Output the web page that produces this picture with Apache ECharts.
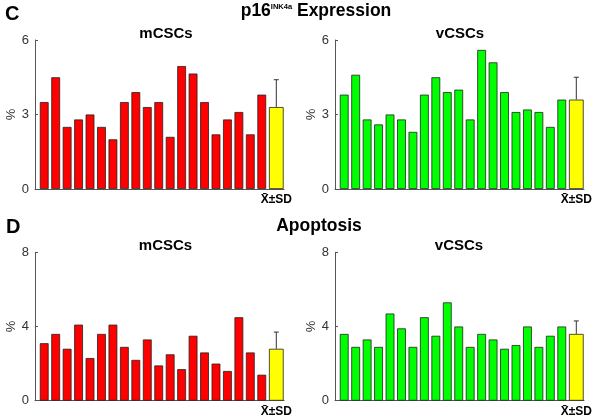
<!DOCTYPE html>
<html><head><meta charset="utf-8">
<script src="https://cdn.jsdelivr.net/npm/echarts@6/dist/echarts.min.js"></script>
<style>html,body{margin:0;padding:0;background:#fff}#c{width:600px;height:420px}</style>
</head><body><div id="c"></div>
<script>
// ---------- data ----------
const samples = ['1','2','3','4','5','6','7','8','9','10','11','12','13','14','15','16','17','18','19','20'];
const meanLabel = ['X\u0304\u00B1SD'];

const p16_mCSC = [3.5,4.5,2.5,2.8,3.0,2.5,2.0,3.5,3.9,3.3,3.5,2.1,4.95,4.65,3.5,2.2,2.8,3.1,2.2,3.8];
const p16_mCSC_mean = 3.3;
const p16_mCSC_sd = 1.1;

const p16_vCSC = [3.8,4.6,2.8,2.6,3.0,2.8,2.3,3.8,4.5,3.9,4.0,2.8,5.6,5.1,3.9,3.1,3.2,3.1,2.5,3.6];
const p16_vCSC_mean = 3.6;
const p16_vCSC_sd = 0.9;

const apo_mCSC = [3.1,3.6,2.8,4.1,2.3,3.6,4.1,2.9,2.2,3.3,1.9,2.5,1.7,3.5,2.6,2.0,1.6,4.5,2.6,1.4];
const apo_mCSC_mean = 2.8;
const apo_mCSC_sd = 0.9;

const apo_vCSC = [3.6,2.9,3.3,2.9,4.7,3.9,2.9,4.5,3.5,5.3,4.0,2.9,3.6,3.3,2.8,3.0,4.0,2.9,3.5,4.0];
const apo_vCSC_mean = 3.6;
const apo_vCSC_sd = 0.7;

const p16Axis = {max: 6, interval: 3};
const apoAxis = {max: 8, interval: 4};

// ---------- layout ----------
const FONT = 'Liberation Sans, Arial, Helvetica, sans-serif';
const panels = [
  {vals: p16_mCSC, mean: p16_mCSC_mean, sd: p16_mCSC_sd, color: '#ff0000', x0: 35,  top: 40,    h: 149,   ax: p16Axis},
  {vals: p16_vCSC, mean: p16_vCSC_mean, sd: p16_vCSC_sd, color: '#00ff00', x0: 335, top: 40,    h: 149,   ax: p16Axis},
  {vals: apo_mCSC, mean: apo_mCSC_mean, sd: apo_mCSC_sd, color: '#ff0000', x0: 35,  top: 252.3, h: 148.4, ax: apoAxis},
  {vals: apo_vCSC, mean: apo_vCSC_mean, sd: apo_vCSC_sd, color: '#00ff00', x0: 335, top: 252.3, h: 148.4, ax: apoAxis}
];

const grid = [], xAxis = [], yAxis = [], series = [];
const axisColor = '#555';
panels.forEach((p) => {
  const gF = grid.length;
  grid.push({left: p.x0, top: p.top, width: 249, height: p.h});
  grid.push({left: p.x0 + 3.5, top: p.top, width: 229, height: p.h});
  grid.push({left: p.x0 + 232.5, top: p.top, width: 17.6, height: p.h});
  // frame axes
  xAxis.push({type: 'category', gridIndex: gF, data: [''],
    axisLine: {show: true, lineStyle: {color: axisColor, width: 1}},
    axisTick: {show: false}, axisLabel: {show: false}, splitLine: {show: false}});
  yAxis.push({type: 'value', gridIndex: gF, min: 0, max: p.ax.max, interval: p.ax.interval,
    axisLine: {show: true, lineStyle: {color: axisColor, width: 1}},
    axisTick: {show: true, inside: true, length: 3, lineStyle: {color: axisColor}},
    axisLabel: {margin: 6, fontSize: 13, color: '#333', fontFamily: FONT},
    splitLine: {show: false},
    name: '%', nameLocation: 'middle', nameGap: 12,
    nameTextStyle: {fontSize: 13, color: '#333', fontFamily: FONT}});
  // sample bars axes
  xAxis.push({type: 'category', gridIndex: gF + 1, data: samples, show: false});
  yAxis.push({type: 'value', gridIndex: gF + 1, min: 0, max: p.ax.max, show: false});
  // mean bar axes
  xAxis.push({type: 'category', gridIndex: gF + 2, data: meanLabel,
    axisLine: {show: false}, axisTick: {show: false},
    axisLabel: {show: true, margin: 5, fontSize: 12, fontWeight: 'bold', color: '#000', fontFamily: FONT, interval: 0}});
  yAxis.push({type: 'value', gridIndex: gF + 2, min: 0, max: p.ax.max, show: false});

  series.push({type: 'bar', xAxisIndex: gF + 1, yAxisIndex: gF + 1, data: p.vals, barWidth: 8.8,
    itemStyle: {color: p.color, borderColor: '#222', borderWidth: 0.8}, silent: true});
  series.push({type: 'bar', xAxisIndex: gF + 2, yAxisIndex: gF + 2, data: [p.mean], barWidth: 14.7,
    itemStyle: {color: '#ffff00', borderColor: '#222', borderWidth: 0.8}, silent: true});
  series.push({type: 'custom', xAxisIndex: gF + 2, yAxisIndex: gF + 2, silent: true, z: 5,
    data: [[0, p.mean, p.sd]],
    renderItem: function (params, api) {
      const m = api.value(1), s = api.value(2);
      const b = api.coord([api.value(0), m]);
      const t = api.coord([api.value(0), m + s]);
      return {type: 'group', children: [
        {type: 'line', shape: {x1: b[0], y1: b[1], x2: t[0], y2: t[1]}, style: {stroke: '#333', lineWidth: 1}},
        {type: 'line', shape: {x1: t[0] - 2.5, y1: t[1], x2: t[0] + 2.5, y2: t[1]}, style: {stroke: '#333', lineWidth: 1}}
      ]};
    }});
});

function txt(text, x, y, size, align) {
  return {type: 'text', x: x, y: y, silent: true,
    style: {text: text, font: 'bold ' + size + 'px ' + FONT, fill: '#000', align: align || 'center', verticalAlign: 'middle'}};
}
const graphic = [
  txt('C', 5, 14.5, 20, 'left'),
  {type: 'text', x: 316, y: 11.5, silent: true,
    style: {text: '{a|p16}{s|INK4a}{a| Expression}', align: 'center', verticalAlign: 'middle', fill: '#000',
      rich: {a: {font: 'bold 17.5px ' + FONT, fill: '#000'}, s: {font: 'bold 7.5px ' + FONT, fill: '#000', verticalAlign: 'top'}}}},
  txt('mCSCs', 166, 34.2, 15),
  txt('vCSCs', 460, 34.2, 15),
  txt('D', 6, 227.5, 20, 'left'),
  txt('Apoptosis', 319, 226, 17.5),
  txt('mCSCs', 165.5, 245.9, 15),
  txt('vCSCs', 459, 245.9, 15)
];

const chart = echarts.init(document.getElementById('c'), null, {renderer: 'canvas'});
chart.setOption({animation: false, backgroundColor: '#fff', grid, xAxis, yAxis, series, graphic});
</script></body></html>
